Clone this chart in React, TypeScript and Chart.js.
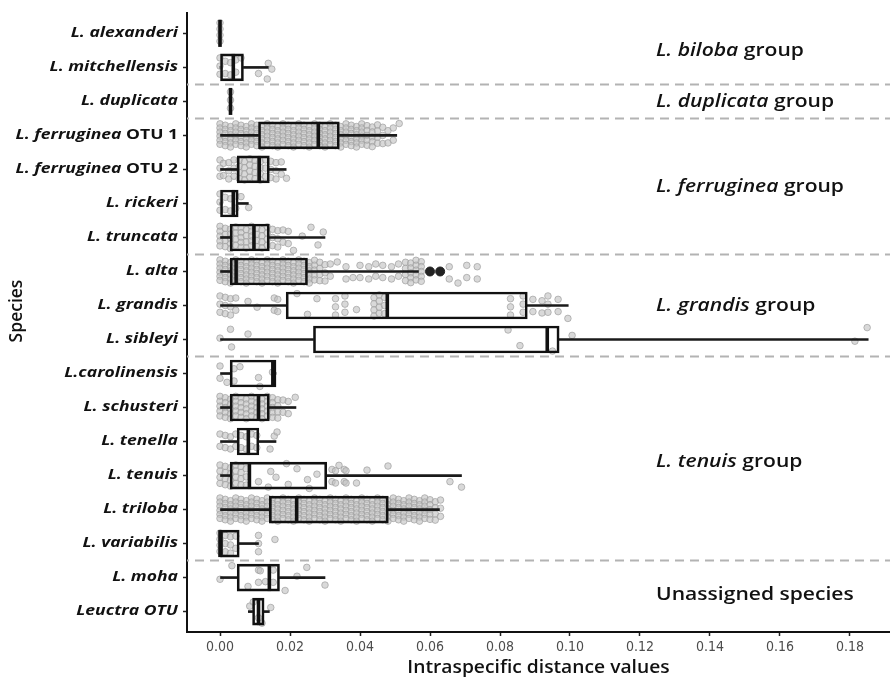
import React, { useEffect, useRef } from 'react';
import { Chart, registerables } from 'chart.js';

Chart.register(...registerables);

// ---------- DATA ----------
// [italic part, upright part]
const speciesLabels: [string, string][] = [
  ['L. alexanderi', ''],
  ['L. mitchellensis', ''],
  ['L. duplicata', ''],
  ['L. ferruginea ', 'OTU 1'],
  ['L. ferruginea ', 'OTU 2'],
  ['L. rickeri', ''],
  ['L. truncata', ''],
  ['L. alta', ''],
  ['L. grandis', ''],
  ['L. sibleyi', ''],
  ['L.carolinensis', ''],
  ['L. schusteri', ''],
  ['L. tenella', ''],
  ['L. tenuis', ''],
  ['L. triloba', ''],
  ['L. variabilis', ''],
  ['L. moha', ''],
  ['Leuctra OTU', ''],
];

const whiskerLow = [0, 0, 0.003, 0, 0, 0, 0, 0, 0, 0, 0, 0, 0, 0, 0, 0, 0, 0.0081];
const q1s = [0, 0, 0.003, 0.011, 0.0049, 0, 0.0029, 0.0029, 0.0189, 0.0267, 0.0029, 0.0029, 0.0049, 0.0029, 0.0141, 0, 0.0049, 0.0093];
const medians = [0, 0.0038, 0.003, 0.0281, 0.0112, 0.0038, 0.0097, 0.0046, 0.0478, 0.0935, 0.0151, 0.011, 0.0081, 0.0084, 0.0219, 0, 0.0141, 0.011];
const q3s = [0, 0.0067, 0.003, 0.0341, 0.0141, 0.0052, 0.0141, 0.025, 0.0878, 0.0969, 0.016, 0.0141, 0.0111, 0.0305, 0.0481, 0.0055, 0.017, 0.0126];
const whiskerHigh = [0, 0.0138, 0.003, 0.0505, 0.0189, 0.0081, 0.03, 0.0567, 0.0995, 0.1852, 0.016, 0.0217, 0.016, 0.069, 0.0627, 0.011, 0.03, 0.0141];

// outliers (filled black) : [value, row]
const outliers: [number, number][] = [[0.0600, 7], [0.0629, 7]];

// raw distance values per species: [value, how many points at that value]
const alexanderiPts: [number, number][] = [[0, 4]];
const mitchellensisPts: [number, number][] = [[0, 3], [0.0015, 2], [0.003, 2], [0.0045, 2], [0.006, 1], [0.011, 1], [0.0135, 1], [0.0138, 1], [0.0148, 1]];
const duplicataPts: [number, number][] = [[0.003, 3]];
const otu1Pts: [number, number][] = [[0, 6], [0.0015, 6], [0.003, 6], [0.0045, 6], [0.006, 6], [0.0075, 6], [0.009, 6], [0.0105, 6], [0.012, 6], [0.0135, 6], [0.015, 6], [0.0165, 6], [0.018, 6], [0.0195, 6], [0.021, 6], [0.0225, 6], [0.024, 6], [0.0255, 6], [0.027, 6], [0.0285, 6], [0.03, 6], [0.0315, 6], [0.033, 6], [0.0345, 6], [0.036, 6], [0.0375, 6], [0.039, 6], [0.0405, 6], [0.042, 5], [0.0435, 5], [0.045, 4], [0.0465, 3], [0.048, 2], [0.0495, 2], [0.0512, 1]];
const otu2Pts: [number, number][] = [[0, 3], [0.001, 2], [0.0025, 3], [0.004, 3], [0.0055, 4], [0.007, 4], [0.0085, 4], [0.01, 4], [0.0115, 4], [0.013, 3], [0.0145, 3], [0.016, 3], [0.0175, 2], [0.019, 1]];
const rickeriPts: [number, number][] = [[0, 3], [0.0015, 2], [0.003, 2], [0.0045, 2], [0.006, 1], [0.0082, 1]];
const truncataPts: [number, number][] = [[0, 5], [0.0015, 4], [0.003, 5], [0.0045, 4], [0.006, 5], [0.0075, 4], [0.009, 5], [0.0105, 4], [0.012, 4], [0.0135, 4], [0.015, 3], [0.0165, 3], [0.018, 2], [0.0195, 2], [0.021, 1], [0.0235, 1], [0.026, 1], [0.028, 1], [0.0295, 1]];
const altaPts: [number, number][] = [[0, 6], [0.0015, 6], [0.003, 6], [0.0045, 6], [0.006, 6], [0.0075, 6], [0.009, 6], [0.0105, 6], [0.012, 6], [0.0135, 6], [0.015, 6], [0.0165, 6], [0.018, 6], [0.0195, 6], [0.021, 6], [0.0225, 6], [0.024, 6], [0.0255, 6], [0.027, 5], [0.0285, 4], [0.03, 3], [0.0315, 2], [0.0335, 1], [0.036, 2], [0.038, 1], [0.04, 2], [0.0425, 2], [0.0445, 2], [0.0465, 2], [0.049, 2], [0.051, 2], [0.053, 4], [0.0545, 5], [0.056, 5], [0.0575, 5], [0.0655, 2], [0.068, 1], [0.0705, 2], [0.0735, 2]];
const grandisPts: [number, number][] = [[0, 3], [0.0015, 3], [0.003, 3], [0.0045, 2], [0.008, 1], [0.0106, 1], [0.0155, 2], [0.0165, 2], [0.022, 1], [0.025, 1], [0.0277, 1], [0.033, 3], [0.0357, 3], [0.039, 1], [0.044, 4], [0.0455, 4], [0.047, 3], [0.083, 3], [0.0866, 3], [0.0894, 2], [0.092, 2], [0.0937, 3], [0.0966, 2], [0.0994, 1]];
const sibleyiPts: [number, number][] = [[0, 1], [0.003, 1], [0.0033, 1], [0.008, 1], [0.0823, 1], [0.0857, 1], [0.095, 1], [0.1006, 1], [0.1814, 1], [0.1849, 1]];
const carolinensisPts: [number, number][] = [[0, 2], [0.002, 1], [0.004, 2], [0.0057, 1], [0.011, 1], [0.0114, 1], [0.015, 1]];
const schusteriPts: [number, number][] = [[0, 5], [0.0015, 5], [0.003, 5], [0.0045, 5], [0.006, 5], [0.0075, 5], [0.009, 5], [0.0105, 5], [0.012, 5], [0.0135, 5], [0.015, 5], [0.0165, 4], [0.018, 2], [0.0195, 2], [0.0215, 1]];
const tenellaPts: [number, number][] = [[0, 2], [0.0015, 2], [0.003, 2], [0.0045, 2], [0.006, 2], [0.0075, 2], [0.009, 2], [0.0105, 2], [0.0143, 1], [0.0155, 1], [0.0163, 1]];
const tenuisPts: [number, number][] = [[0, 4], [0.0015, 4], [0.003, 4], [0.0045, 4], [0.006, 4], [0.0075, 3], [0.011, 1], [0.0138, 1], [0.0145, 1], [0.016, 1], [0.019, 1], [0.0195, 1], [0.022, 1], [0.025, 1], [0.0255, 1], [0.0277, 1], [0.032, 2], [0.033, 2], [0.034, 1], [0.0355, 2], [0.036, 2], [0.039, 1], [0.042, 1], [0.048, 1], [0.0657, 1], [0.069, 1]];
const trilobaPts: [number, number][] = [[0, 6], [0.0015, 6], [0.003, 6], [0.0045, 6], [0.006, 6], [0.0075, 6], [0.009, 6], [0.0105, 6], [0.012, 6], [0.0135, 6], [0.015, 6], [0.0165, 6], [0.018, 6], [0.0195, 6], [0.021, 6], [0.0225, 6], [0.024, 6], [0.0255, 6], [0.027, 6], [0.0285, 6], [0.03, 6], [0.0315, 6], [0.033, 6], [0.0345, 6], [0.036, 6], [0.0375, 6], [0.039, 6], [0.0405, 6], [0.042, 6], [0.0435, 6], [0.045, 6], [0.0465, 6], [0.048, 6], [0.0495, 6], [0.051, 6], [0.0525, 6], [0.054, 6], [0.0555, 6], [0.057, 6], [0.0585, 6], [0.06, 5], [0.0615, 4], [0.063, 3]];
const variabilisPts: [number, number][] = [[0, 4], [0.0015, 3], [0.003, 3], [0.0045, 2], [0.011, 3], [0.0157, 1]];
const mohaPts: [number, number][] = [[0, 1], [0.0034, 1], [0.008, 1], [0.011, 2], [0.0115, 1], [0.013, 1], [0.0152, 2], [0.0186, 1], [0.022, 1], [0.0248, 1], [0.03, 1]];
const leuctraPts: [number, number][] = [[0.0085, 1], [0.0095, 1], [0.011, 1], [0.012, 1], [0.0145, 1]];

const pointsBySpecies = [
  alexanderiPts, mitchellensisPts, duplicataPts, otu1Pts, otu2Pts, rickeriPts, truncataPts,
  altaPts, grandisPts, sibleyiPts, carolinensisPts, schusteriPts, tenellaPts, tenuisPts,
  trilobaPts, variabilisPts, mohaPts, leuctraPts,
];

const xTicks = [0, 0.02, 0.04, 0.06, 0.08, 0.1, 0.12, 0.14, 0.16, 0.18];

// group separators (between rows) and group labels
const separatorRows = [1.5, 2.5, 6.5, 9.5, 15.5];
const groupItalic = ['L. biloba', 'L. duplicata', 'L. ferruginea', 'L. grandis', 'L. tenuis', ''];
const groupUpright = [' group', ' group', ' group', ' group', ' group', 'Unassigned species'];
const groupRows = [0.5, 2, 4.5, 8, 12.6, 16.5];

// ---------- helpers (layout only) ----------
const JIT = [-0.28, 0.18, 0.34, -0.12, 0.05, -0.35, 0.26, -0.2, 0.12, 0.38, -0.04, -0.3, 0.22, -0.16];

function buildPoints() {
  const out: { x: number; y: number }[] = [];
  let c = 0;
  pointsBySpecies.forEach((cols, row) => {
    cols.forEach(([v, n], j) => {
      if (n === 1) {
        out.push({ x: v, y: row + JIT[c % JIT.length] });
        c++;
      } else {
        const shift = ((j % 3) - 1) * 0.04;
        for (let k = 0; k < n; k++) {
          out.push({ x: v, y: row - 0.36 + (0.72 * (k + 0.5)) / n + shift });
        }
      }
    });
  });
  return out;
}

const FONT = '"Open Sans", "Noto Sans", "DejaVu Sans", sans-serif';

function stretchText(ctx: any, text: string, x: number, y: number, sx: number) {
  ctx.save();
  ctx.translate(x, y);
  ctx.scale(sx, 1);
  ctx.fillText(text, 0, 0);
  ctx.restore();
}

const annotations = {
  id: 'annotations',
  afterDraw(chart: any) {
    const { ctx, chartArea, scales } = chart;
    const x = scales.x;
    const y = scales.y;
    ctx.save();
    ctx.fillStyle = '#111';
    ctx.textBaseline = 'middle';
    ctx.textAlign = 'left';
    // species labels
    const SX = 1.3;
    speciesLabels.forEach(([it, up], i) => {
      const py = y.getPixelForValue(i);
      const right = chartArea.left - 9;
      ctx.font = `bold 13.5px ${FONT}`;
      const wUp = up ? ctx.measureText(up).width * SX : 0;
      ctx.font = `italic bold 13.5px ${FONT}`;
      const wIt = ctx.measureText(it).width * SX;
      stretchText(ctx, it, right - wUp - wIt, py, SX);
      if (up) {
        ctx.font = `bold 13.5px ${FONT}`;
        stretchText(ctx, up, right - wUp, py, SX);
      }
    });
    // group labels
    const GX = 1.17;
    const gx = x.getPixelForValue(0.1246);
    groupRows.forEach((r, i) => {
      const py = y.getPixelForValue(r);
      let px = gx;
      if (groupItalic[i]) {
        ctx.font = `italic 600 18px ${FONT}`;
        stretchText(ctx, groupItalic[i], px, py, GX);
        px += ctx.measureText(groupItalic[i]).width * GX;
      }
      ctx.font = `600 18px ${FONT}`;
      stretchText(ctx, groupUpright[i], px, py, GX);
    });
    // axis titles
    ctx.font = `600 17.5px ${FONT}`;
    ctx.textAlign = 'center';
    stretchText(ctx, 'Intraspecific distance values', (chartArea.left + chartArea.right) / 2, 668, 1.1);
    ctx.translate(17, 311);
    ctx.rotate(-Math.PI / 2);
    ctx.fillText('Species', 0, 0);
    ctx.restore();
  },
};

export default function App() {
  const ref = useRef<HTMLCanvasElement | null>(null);

  useEffect(() => {
    if (!ref.current) return;
    const rows = speciesLabels.map((_, i) => i);
    const sepDatasets = separatorRows.map((r) => ({
      type: 'scatter' as const,
      data: [{ x: -0.02, y: r }, { x: 0.25, y: r }],
      showLine: true,
      borderColor: '#b3b3b3',
      borderWidth: 2,
      borderDash: [9, 6],
      pointRadius: 0,
      order: 10,
    }));

    const chart = new Chart(ref.current, {
      type: 'scatter',
      data: {
        datasets: [
          ...sepDatasets,
          {
            type: 'scatter',
            data: buildPoints(),
            pointRadius: 3.3,
            borderWidth: 1,
            borderColor: 'rgba(160,160,160,0.7)',
            backgroundColor: 'rgba(192,192,192,0.6)',
            order: 8,
          },
          {
            type: 'scatter',
            data: outliers.map(([v, r]) => ({ x: v, y: r })),
            pointRadius: 4.5,
            borderWidth: 1,
            borderColor: '#222',
            backgroundColor: '#222',
            order: 6,
          },
          {
            type: 'bar',
            indexAxis: 'y',
            grouped: false,
            barThickness: 2,
            data: rows.map((i) => ({ x: [whiskerLow[i], q1s[i]], y: i })),
            backgroundColor: '#1a1a1a',
            borderWidth: 0,
            order: 5,
          } as any,
          {
            type: 'bar',
            indexAxis: 'y',
            grouped: false,
            barThickness: 2,
            data: rows.map((i) => ({ x: [q3s[i], whiskerHigh[i]], y: i })),
            backgroundColor: '#1a1a1a',
            borderWidth: 0,
            order: 5,
          } as any,
          {
            type: 'bar',
            indexAxis: 'y',
            grouped: false,
            barThickness: 27,
            data: rows.map((i) => ({ x: [q1s[i], q3s[i]], y: i })),
            backgroundColor: 'rgba(255,255,255,0)',
            borderColor: '#111',
            borderWidth: 2,
            borderSkipped: false,
            order: 4,
          } as any,
          {
            type: 'scatter',
            data: rows.map((i) => ({ x: medians[i], y: i })),
            pointStyle: 'line',
            rotation: 90,
            pointRadius: 13.5,
            borderWidth: 3.6,
            borderColor: '#111',
            order: 1,
          } as any,
        ],
      },
      options: {
        animation: false,
        responsive: false,
        layout: { autoPadding: false, padding: { top: 13, left: 0, right: 0, bottom: 0 } },
        plugins: { legend: { display: false }, tooltip: { enabled: false } },
        events: [],
        scales: {
          x: {
            type: 'linear',
            position: 'bottom',
            min: -0.009429,
            max: 0.191429,
            afterBuildTicks: (axis: any) => {
              axis.ticks = xTicks.map((v) => ({ value: v }));
            },
            afterFit: (axis: any) => {
              axis.height = 49;
              axis.paddingLeft = 0;
              axis.paddingRight = 0;
            },
            ticks: {
              callback: (v: any) => Number(v).toFixed(2),
              color: '#4d4d4d',
              font: { family: '"Liberation Sans Narrow", "DejaVu Sans Condensed", "Liberation Sans", sans-serif', size: 14 },
              padding: 3,
              maxRotation: 0,
              autoSkip: false,
            },
            grid: { drawOnChartArea: false, drawTicks: true, tickLength: 4, tickColor: '#222', tickWidth: 1.5 },
            border: { display: true, color: '#111', width: 2 },
          },
          y: {
            type: 'linear',
            position: 'left',
            reverse: true,
            min: -0.6,
            max: 17.6,
            offset: false,
            afterBuildTicks: (axis: any) => {
              axis.ticks = speciesLabels.map((_, i) => ({ value: i }));
            },
            afterFit: (axis: any) => {
              axis.width = 187;
              axis.paddingTop = 0;
              axis.paddingBottom = 0;
            },
            ticks: { callback: () => '', autoSkip: false },
            grid: { drawOnChartArea: false, drawTicks: true, tickLength: 4, tickColor: '#222', tickWidth: 1.5, offset: false },
            border: { display: true, color: '#111', width: 2 },
          },
        },
      } as any,
      plugins: [annotations],
    });
    return () => chart.destroy();
  }, []);

  return (
    <div style={{ position: 'absolute', left: 0, top: 0, width: 890, height: 681, background: '#fff' }}>
      <canvas ref={ref} width={890} height={681} style={{ display: 'block' }} />
    </div>
  );
}
